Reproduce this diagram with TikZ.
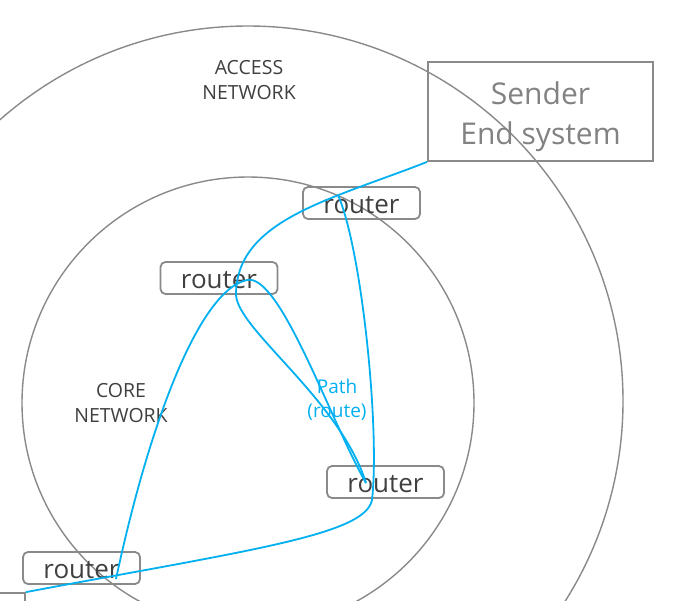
\documentclass[tikz,border=0pt]{standalone}
\usepackage{fontspec}
\setmainfont{Open Sans}
\definecolor{lineGray}{HTML}{8A8A8A}
\definecolor{textDark}{HTML}{404040}
\definecolor{textGray}{HTML}{828282}
\definecolor{pathBlue}{RGB}{0,176,240}
\begin{document}
\begin{tikzpicture}[x=1pt,y=-1pt,
  ring/.style={draw=lineGray,line width=1.4pt},
  routerbox/.style={draw=lineGray,line width=1.8pt,rounded corners=5pt,
    minimum width=117pt,minimum height=32pt,inner sep=0pt,
    text height=20pt,text depth=0pt,text=textDark,
    font=\fontsize{26}{30}\selectfont},
  endbox/.style={draw=lineGray,line width=1.8pt,inner sep=0pt,text=textGray,
    align=center,font=\fontsize{30}{40}\selectfont},
  netlabel/.style={text=textDark,align=center,font=\fontsize{19.5}{25}\selectfont},
  pathlabel/.style={text=pathBlue,align=center,font=\fontsize{19}{24.5}\selectfont},
  route/.style={draw=pathBlue,line width=1.8pt}]
\useasboundingbox (0,0) rectangle (696,600);
\clip (0,0) rectangle (696,600);
\fill[white] (0,0) rectangle (696,600);
% network rings
\draw[ring] (248,401) circle[radius=375];
\draw[ring] (248,403) circle[radius=226];
% labels
\node[netlabel] (access) at (249,80.5) {ACCESS\\NETWORK};
\node[netlabel] (core) at (121,403.5) {CORE\\NETWORK};
\node[pathlabel] (pathlbl) at (337,400) {Path\\(route)};
% end systems
\node[endbox,minimum width=225pt,minimum height=99pt] (sender) at (540.5,111.5) {\rule{0pt}{33pt}Sender\\End system};
\node[endbox,minimum width=125pt,minimum height=106pt] (recv) at (-37.5,646) {};
% routers
\node[routerbox] (r1) at (361.5,203) {router};
\node[routerbox] (r2) at (219,278) {router};
\node[routerbox] (r3) at (385.5,482) {router};
\node[routerbox] (r4) at (81.5,568) {router};
% junction points inside the routers
\coordinate (j1) at (338,195);
\coordinate (jp) at (247,280);
\coordinate (j3) at (366,483);
\coordinate (j4) at (116,579);
\coordinate (b3) at (372,500);
\coordinate (lp) at (236,295);
% paths
\draw[route] (sender.south west) .. controls (330,200) and (236,220) .. (lp)
  .. controls (238,330) and (340,400) .. (j3);
\draw[route] (j4) .. controls (150,420) and (200,290) .. (jp)
  .. controls (280,273) and (330,420) .. (j3);
\draw[route] (j1) .. controls (362,250) and (380,430) .. (b3)
  .. controls (365,535) and (250,550) .. (recv.north east);
\end{tikzpicture}
\end{document}
